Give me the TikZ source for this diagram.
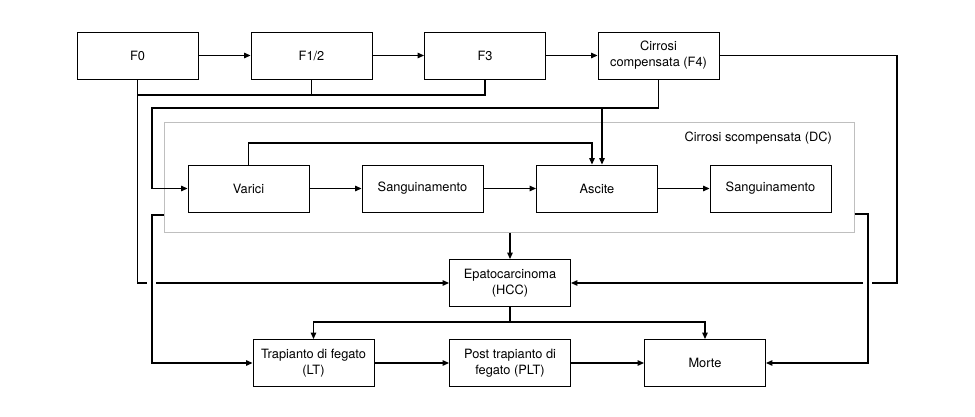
\documentclass[tikz,border=0pt]{standalone}
\usepackage{fontspec}
\setmainfont{TeX Gyre Heros}
\usetikzlibrary{arrows.meta}
\tikzset{
  box/.style={draw=black, line width=0.9pt, minimum width=121pt, minimum height=47pt, inner sep=0pt, align=center, font=\fontsize{12.8}{16}\selectfont},
  conn/.style={draw=black, line width=1.3pt},
  arr/.style={-{Triangle[length=6.5pt,width=5.5pt]}},
  grp/.style={draw=black!25, line width=1pt, minimum width=690pt, minimum height=109pt, inner sep=0pt}
}
\begin{document}
\begin{tikzpicture}[x=1pt,y=-1pt]
\useasboundingbox[fill=white] (0,0) rectangle (975,417);
% group container
\node[grp] (dc) at (509,177.5) {};
\node[anchor=east, inner sep=0pt, font=\fontsize{12.8}{16}\selectfont] (dclabel) at (832,138) {Cirrosi scompensata (DC)};
% top row
\node[box] (f0)  at (137.5,55.5) {F0};
\node[box] (f12) at (311.5,55.5) {F1/2};
\node[box] (f3)  at (485,55.5) {F3};
\node[box] (f4)  at (658.5,55.5) {Cirrosi\\compensata (F4)};
% second row
\node[box] (var) at (248.5,188.5) {Varici};
\node[box] (s1)  at (422.5,188.5) {Sanguinamento};
\node[box] (asc) at (597,188.5) {Ascite};
\node[box] (s2)  at (770.5,188.5) {Sanguinamento};
% HCC
\node[box] (hcc) at (510,283) {Epatocarcinoma\\(HCC)};
% bottom row
\node[box] (lt)    at (313.5,363) {Trapianto di fegato\\(LT)};
\node[box] (plt)   at (510,363) {Post trapianto di\\fegato (PLT)};
\node[box] (morte) at (705,363) {Morte};
% helper coordinates
\coordinate (c95) at (0,95);
\coordinate (c108) at (0,108);
\coordinate (c143) at (0,143);
\coordinate (c214) at (0,214);
\coordinate (c215) at (0,215);
\coordinate (c322) at (0,322);
\coordinate (L108) at (152,108);
\coordinate (L215) at (152,215);
\coordinate (R214) at (868,214);
\coordinate (R283) at (897,283);
\coordinate (gapL1) at (147,283);
\coordinate (gapL2) at (156,283);
\coordinate (gapR1) at (872,283);
\coordinate (gapR2) at (863,283);
\coordinate (ascL) at ([xshift=-5pt]asc.north);
\coordinate (ascR) at ([xshift=5pt]asc.north);
% top row arrows
\draw[conn,arr] (f0) -- (f12);
\draw[conn,arr] (f12) -- (f3);
\draw[conn,arr] (f3) -- (f4);
% F0/F1/F3 merge to HCC
\draw[conn] (f12.south) -- (f12.south |- c95);
\draw[conn] (f3.south) |- (f0.south |- c95);
\draw[conn] (f0.south) |- (gapL1);
\draw[conn,arr] (gapL2) -- (hcc.west);
% F4 to DC
\draw[conn,arr] (f4.south) -- (f4.south |- c108) -- (L108) |- (var.west);
\draw[conn,arr] (ascR |- c108) -- (ascR);
\draw[conn,arr] (var.north) |- (ascL |- c143) -- (ascL);
% second row
\draw[conn,arr] (var) -- (s1);
\draw[conn,arr] (s1) -- (asc);
\draw[conn,arr] (asc) -- (s2);
% DC to HCC
\draw[conn,arr] (hcc.north |- dc.south) -- (hcc.north);
% F4 to HCC
\draw[conn] (f4.east) -| (R283) -- (gapR1);
\draw[conn,arr] (gapR2) -- (hcc.east);
% HCC split
\draw[conn,arr] (hcc.south) |- (lt.north |- c322) -- (lt.north);
\draw[conn,arr] (hcc.south |- c322) -| (morte.north);
% bottom row
\draw[conn,arr] (lt) -- (plt);
\draw[conn,arr] (plt) -- (morte);
% DC to LT and Morte
\draw[conn,arr] (dc.west |- c215) -- (L215) |- (lt.west);
\draw[conn,arr] (dc.east |- c214) -- (R214) |- (morte.east);
\end{tikzpicture}
\end{document}
